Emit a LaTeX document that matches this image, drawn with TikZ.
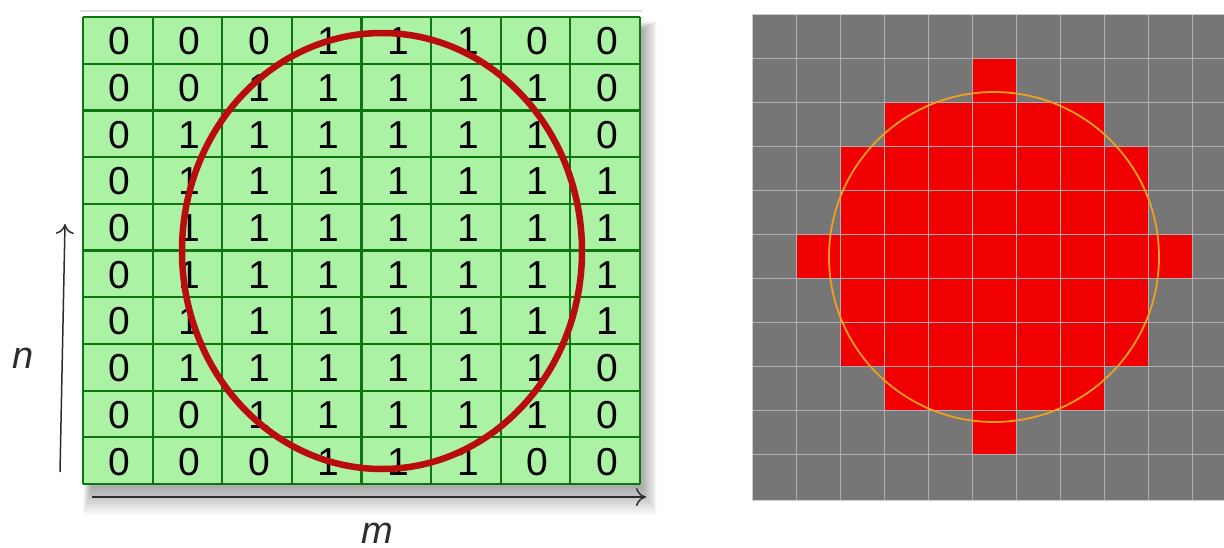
\documentclass[tikz,border=0pt]{standalone}
\usepackage{fontspec}
\setmainfont{Liberation Sans}
\usetikzlibrary{arrows.meta}
\definecolor{cellgreen}{RGB}{172,242,164}
\definecolor{linegreen}{RGB}{14,118,14}
\definecolor{ringred}{RGB}{185,12,12}
\definecolor{pixgray}{RGB}{118,118,118}
\definecolor{pixline}{RGB}{175,175,175}
\definecolor{pixred}{RGB}{240,0,0}
\definecolor{ringorange}{RGB}{240,160,30}
\definecolor{axisgray}{RGB}{45,45,45}
\tikzset{
  digit/.style={inner sep=0pt, font=\fontsize{39}{39}\selectfont, text=black},
  axislabel/.style={inner sep=0pt, font=\fontsize{38}{38}\selectfont\itshape, text=axisgray},
  axisarrow/.style={draw=axisgray, line width=1.5pt, -{To[length=10pt,width=18pt,line width=1.5pt]}},
}
\begin{document}
\begin{tikzpicture}[x=1pt,y=-1pt]
\useasboundingbox (0,0) rectangle (1224,547);
\fill[white] (0,0) rectangle (1224,547);
% ---------- left grid shadow ----------
\foreach \i in {1,...,18}
  \fill[black,opacity=0.02] ({92-\i*0.5},{30-\i*0.5}) rectangle ({641+\i*0.9},{486+\i*1.6});
\draw[black!12, line width=1.5pt] (80,11) -- (642,11);
% ---------- left grid ----------
\fill[cellgreen] (83,17) rectangle (640,484);
\foreach \k in {0,...,8}
  \draw[linegreen, line width=2.2pt] ({83+69.625*\k},17) -- ({83+69.625*\k},484);
\foreach \k in {0,...,10}
  \draw[linegreen, line width=2.2pt] (83,{17+46.7*\k}) -- (640,{17+46.7*\k});
\foreach \row [count=\r from 0] in {
  {0,0,0,1,1,1,0,0},
  {0,0,1,1,1,1,1,0},
  {0,1,1,1,1,1,1,0},
  {0,1,1,1,1,1,1,1},
  {0,1,1,1,1,1,1,1},
  {0,1,1,1,1,1,1,1},
  {0,1,1,1,1,1,1,1},
  {0,1,1,1,1,1,1,0},
  {0,0,1,1,1,1,1,0},
  {0,0,0,1,1,1,0,0}}{
  \foreach \v [count=\c from 0] in \row {
    \node[digit] (d-\r-\c) at ({83+69.625*(\c+0.5)+2},{17+46.7*(\r+0.5)+1}) {\v};
  }
}
\draw[ringred, line width=6.5pt] (382,251) ellipse [x radius=200, y radius=218];
% ---------- axes ----------
\coordinate (nfrom) at (60,472);
\coordinate (nto) at (65,224);
\coordinate (mfrom) at (92,497);
\coordinate (mto) at (646,497);
\draw[axisarrow] (nfrom) -- (nto);
\draw[axisarrow] (mfrom) -- (mto);
\node[axislabel] (nlab) at (23,358) {n};
\node[axislabel] (mlab) at (377,533) {m};
% ---------- right pixel grid ----------
\fill[pixgray] (752,14) rectangle (1224,500);
\foreach \r/\a/\b in {1/5/5, 2/3/7, 3/2/8, 4/2/8, 5/1/9, 6/2/8, 7/2/8, 8/3/7, 9/5/5}
  \fill[pixred] ({752+44*\a},{14+44*\r}) rectangle ({752+44*(\b+1)},{14+44*(\r+1)});
\foreach \k in {1,...,10}
  \draw[pixline, line width=0.9pt] ({752+44*\k},14) -- ({752+44*\k},500);
\foreach \k in {1,...,10}
  \draw[pixline, line width=0.9pt] (752,{14+44*\k}) -- (1224,{14+44*\k});
\draw[black!20, line width=1pt] (1224,14) -- (752,14) -- (752,500) -- (1224,500);
\draw[ringorange, line width=1.8pt] (994,257) circle [radius=165];
\end{tikzpicture}
\end{document}
